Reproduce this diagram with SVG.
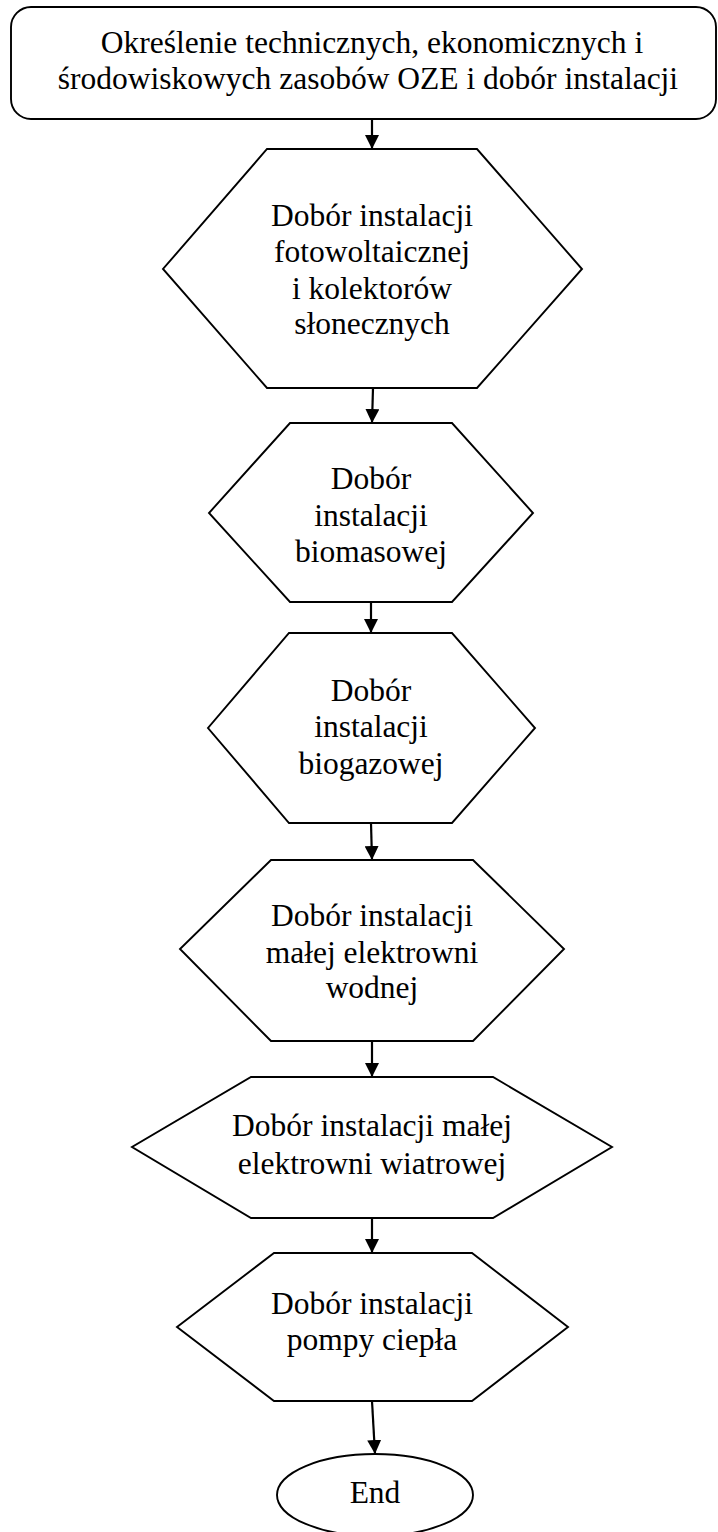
<svg xmlns="http://www.w3.org/2000/svg" width="718" height="1532" viewBox="0 0 718 1532">
  <style>
    .shape { fill: #ffffff; stroke: #000000; stroke-width: 1.9; stroke-linejoin: miter; }
    .label { font-family: "Liberation Serif", "Times New Roman", serif; font-size: 31.5px; fill: #000000; text-anchor: middle; }
    .link { stroke: #000000; stroke-width: 2.2; fill: none; marker-end: url(#arrow); }
  </style>
  <defs>
    <marker id="arrow" viewBox="0 0 14 14" refX="14" refY="7" markerWidth="14" markerHeight="14" markerUnits="userSpaceOnUse" orient="auto">
      <path d="M0,0 L14,7 L0,14 Z" fill="#000000"/>
    </marker>
  </defs>
  <rect width="718" height="1532" fill="#ffffff"/>

  <!-- connectors -->
  <g id="connectors">
    <line class="link" x1="372" y1="119" x2="372" y2="149"/>
    <line class="link" x1="373" y1="388" x2="372" y2="423"/>
    <line class="link" x1="371" y1="602" x2="371" y2="633"/>
    <line class="link" x1="371" y1="823" x2="372" y2="860"/>
    <line class="link" x1="372" y1="1041" x2="372" y2="1077"/>
    <line class="link" x1="372" y1="1218" x2="372" y2="1253"/>
    <line class="link" x1="372" y1="1401" x2="375" y2="1454"/>
  </g>

  <!-- start: resources assessment -->
  <g id="node-start">
    <rect class="shape" x="11" y="7" width="705" height="112" rx="20" ry="20"/>
    <text class="label" x="372" y="53">Określenie technicznych, ekonomicznych i</text>
    <text class="label" x="368" y="89">środowiskowych zasobów OZE i dobór instalacji</text>
  </g>

  <!-- PV and solar collectors -->
  <g id="node-pv">
    <polygon class="shape" points="267,149 477,149 582,269 477,388 267,388 163,269"/>
    <text class="label" x="372" y="226">Dobór instalacji</text>
    <text class="label" x="372" y="262">fotowoltaicznej</text>
    <text class="label" x="372" y="299">i kolektorów</text>
    <text class="label" x="372" y="334">słonecznych</text>
  </g>

  <!-- biomass -->
  <g id="node-biomass">
    <polygon class="shape" points="290,423 452,423 533,513 452,602 290,602 209,513"/>
    <text class="label" x="371" y="489">Dobór</text>
    <text class="label" x="371" y="526">instalacji</text>
    <text class="label" x="371" y="562">biomasowej</text>
  </g>

  <!-- biogas -->
  <g id="node-biogas">
    <polygon class="shape" points="289,633 452,633 535,728 452,823 289,823 208,728"/>
    <text class="label" x="371" y="701">Dobór</text>
    <text class="label" x="371" y="737">instalacji</text>
    <text class="label" x="371" y="774">biogazowej</text>
  </g>

  <!-- small hydro -->
  <g id="node-hydro">
    <polygon class="shape" points="271,860 473,860 564,949 473,1041 271,1041 180,949"/>
    <text class="label" x="372" y="926">Dobór instalacji</text>
    <text class="label" x="372" y="963">małej elektrowni</text>
    <text class="label" x="372" y="998">wodnej</text>
  </g>

  <!-- small wind -->
  <g id="node-wind">
    <polygon class="shape" points="251,1077 493,1077 612,1147 493,1218 251,1218 132,1147"/>
    <text class="label" x="372" y="1136">Dobór instalacji małej</text>
    <text class="label" x="372" y="1174">elektrowni wiatrowej</text>
  </g>

  <!-- heat pump -->
  <g id="node-heatpump">
    <polygon class="shape" points="274,1253 472,1253 568,1327 472,1401 274,1401 177,1327"/>
    <text class="label" x="372" y="1314">Dobór instalacji</text>
    <text class="label" x="372" y="1350">pompy ciepła</text>
  </g>

  <!-- end -->
  <g id="node-end">
    <ellipse class="shape" cx="375" cy="1495" rx="98" ry="41"/>
    <text class="label" x="375" y="1503">End</text>
  </g>
</svg>
